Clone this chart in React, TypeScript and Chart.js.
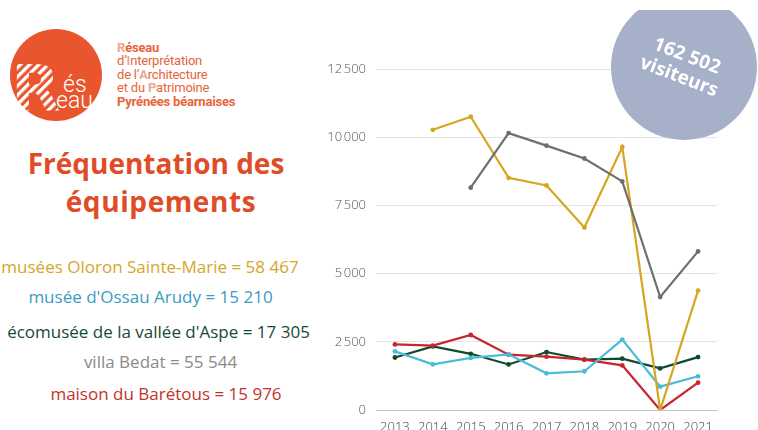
import React, { useEffect, useRef } from "react";
import { Chart, registerables } from "chart.js";

Chart.register(...registerables);

const years = ["2013", "2014", "2015", "2016", "2017", "2018", "2019", "2020", "2021"];
const oloron = [null, 10270, 10750, 8510, 8230, 6690, 9640, 0, 4377];
const bedat = [null, null, 8150, 10150, 9690, 9220, 8380, 4140, 5814];
const ossau = [2150, 1675, 1910, 2040, 1345, 1420, 2580, 855, 1235];
const aspe = [1925, 2330, 2060, 1670, 2125, 1850, 1880, 1525, 1940];
const baretous = [2405, 2360, 2750, 2027, 1954, 1844, 1635, 0, 1001];
const yTicks = [0, 2500, 5000, 7500, 10000, 12500];

const legendLines = [
  { text: "musées Oloron Sainte-Marie = 58 467", color: "#d6a52b", cx: 150, base: 273 },
  { text: "musée d'Ossau Arudy = 15 210", color: "#3b9bc2", cx: 150.5, base: 303 },
  { text: "écomusée de la vallée d'Aspe = 17 305", color: "#164a36", cx: 158.5, base: 338 },
  { text: "villa Bedat = 55 544", color: "#8a8a8a", cx: 160.5, base: 368 },
  { text: "maison du Barétous = 15 976", color: "#c2322c", cx: 166, base: 400 },
];

function fmt(v: number) {
  const s = String(v);
  if (s.length <= 3) return s;
  return s.slice(0, s.length - 3) + "\u202f" + s.slice(s.length - 3);
}

function LineChart() {
  const ref = useRef<HTMLCanvasElement | null>(null);
  useEffect(() => {
    if (!ref.current) return;
    const mk = (label: string, data: (number | null)[], color: string) => ({
      label,
      data,
      borderColor: color,
      backgroundColor: color,
      borderWidth: 2.2,
      pointRadius: 2.4,
      pointHoverRadius: 2.4,
      pointBorderWidth: 0,
      tension: 0,
      spanGaps: false,
    });
    const chart = new Chart(ref.current, {
      type: "line",
      data: {
        labels: years,
        datasets: [
          mk("villa Bedat", bedat, "#6f6f6f"),
          mk("musées Oloron Sainte-Marie", oloron, "#d8a520"),
          mk("musée d'Ossau Arudy", ossau, "#4bbcd6"),
          mk("maison du Barétous", baretous, "#c8262c"),
          mk("écomusée de la vallée d'Aspe", aspe, "#0e4a2c"),
        ],
      },
      options: {
        responsive: false,
        animation: false,
        devicePixelRatio: 1,
        layout: { padding: { top: 69, right: 9, bottom: 0, left: 0 } },
        plugins: { legend: { display: false }, tooltip: { enabled: false } },
        scales: {
          x: {
            offset: true,
            grid: { display: false, drawTicks: false },
            border: { display: true, color: "#c4c4c4", width: 1 },
            ticks: {
              color: "#444",
              padding: 9,
              font: { family: "'Open Sans'", size: 13, weight: 300 },
              maxRotation: 0,
            },
            afterFit: (s: any) => {
              s.height = 30;
            },
          },
          y: {
            min: 0,
            max: 12500,
            afterBuildTicks: (s: any) => {
              s.ticks = yTicks.map((v) => ({ value: v }));
            },
            grid: { color: "#e4e4e4", lineWidth: 1, drawTicks: false },
            border: { display: false },
            ticks: {
              color: "#555",
              padding: 10,
              font: { family: "'Open Sans'", size: 13, weight: 300 },
              callback: (v: any) => fmt(Number(v)),
            },
            afterFit: (s: any) => {
              s.width = 60;
            },
          },
        },
      },
    });
    return () => chart.destroy();
  }, []);
  return (
    <canvas
      ref={ref}
      width={410}
      height={440}
      style={{ position: "absolute", left: 316, top: 0, width: 410, height: 440 }}
    />
  );
}

function Logo() {
  return (
    <svg width={110} height={110} style={{ position: "absolute", left: 0, top: 20 }} viewBox="0 20 110 110">
      <defs>
        <pattern id="stripes" patternUnits="userSpaceOnUse" width="6.5" height="6.5" patternTransform="rotate(45)">
          <rect x="0" y="0" width="3.3" height="6.5" fill="#ffffff" />
        </pattern>
      </defs>
      <circle cx={56} cy={75} r={46} fill="#e8552f" />
      <text x={11} y={111} fontFamily="'DejaVu Sans'" fontWeight="bold" fontSize={64} fill="url(#stripes)">R</text>
      <text x={63} y={92} fontFamily="Roboto" fontWeight={300} fontSize={23} fill="#fff">és</text>
      <text x={56} y={108} fontFamily="Roboto" fontWeight={300} fontSize={23} fill="#fff">eau</text>
    </svg>
  );
}

export default function App() {
  const hl = "#eba98f";
  const orange = "#e8643a";
  const logoLine: React.CSSProperties = {
    position: "absolute",
    left: 117,
    fontFamily: "Roboto",
    fontSize: 13,
    lineHeight: "13px",
    color: orange,
    whiteSpace: "nowrap",
    letterSpacing: -0.2,
  };
  const lsize = 17;
  return (
    <div
      style={{
        position: "fixed",
        left: 0,
        top: 0,
        width: 758,
        height: 430,
        overflow: "hidden",
        background: "#fff",
        fontFamily: "'Open Sans'",
      }}
    >
      <Logo />
      <div style={{ ...logoLine, top: 41, fontWeight: 700 }}>
        <span style={{ color: hl }}>R</span>éseau
      </div>
      <div style={{ ...logoLine, top: 54 }}>
        d’<b style={{ color: hl }}>I</b>nterprétation
      </div>
      <div style={{ ...logoLine, top: 68 }}>
        de l’<b style={{ color: hl }}>A</b>rchitecture
      </div>
      <div style={{ ...logoLine, top: 81 }}>
        et du <b style={{ color: hl }}>P</b>atrimoine
      </div>
      <div style={{ ...logoLine, top: 95, fontWeight: 700 }}>Pyrénées béarnaises</div>

      <div
        style={{
          position: "absolute",
          left: 0,
          width: 312,
          top: 144,
          textAlign: "center",
          fontFamily: "'Open Sans'",
          fontWeight: 700,
          fontSize: 28,
          lineHeight: "38px",
          color: "#e04c28",
        }}
      >
        Fréquentation des
        <br />
        <span style={{ position: "relative", left: 5, letterSpacing: 0.6 }}>équipements</span>
      </div>

      {legendLines.map((l, i) => (
        <div
          key={i}
          style={{
            position: "absolute",
            left: l.cx,
            top: l.base - 0.888 * lsize,
            transform: "translateX(-50%)",
            whiteSpace: "nowrap",
            fontFamily: "'Open Sans'",
            fontSize: lsize,
            lineHeight: lsize + "px",
            color: l.color,
          }}
        >
          {l.text}
        </div>
      ))}

      <LineChart />

      <div
        style={{
          position: "absolute",
          left: 0,
          top: 10,
          width: 758,
          height: 200,
          overflow: "hidden",
          pointerEvents: "none",
        }}
      >
        <div
          style={{
            position: "absolute",
            left: 684 - 73,
            top: 67 - 73 - 10,
            width: 146,
            height: 146,
            borderRadius: "50%",
            background: "#a6b0c9",
          }}
        />
        <div
          style={{
            position: "absolute",
            left: 683 - 70,
            top: 66 - 10 - 30,
            width: 140,
            height: 60,
            transform: "rotate(21deg)",
            textAlign: "center",
            color: "#fff",
            fontFamily: "'Open Sans'",
            fontWeight: 700,
            fontSize: 19,
            lineHeight: "22px",
            paddingTop: 7,
            boxSizing: "border-box",
          }}
        >
          162 502
          <br />
          visiteurs
        </div>
      </div>
    </div>
  );
}
